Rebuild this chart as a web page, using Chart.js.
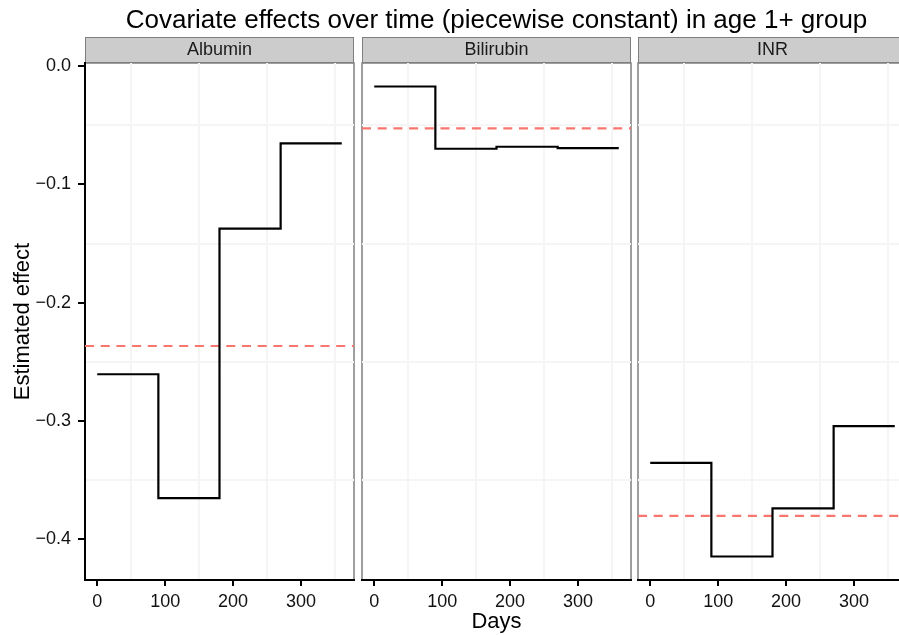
<!DOCTYPE html>
<html lang="en">
<head>
<meta charset="UTF-8" />
<title>Covariate effects over time</title>
<script src="https://cdn.jsdelivr.net/npm/chart.js@4"></script>
<style>
  html, body { margin: 0; padding: 0; background: #fff; overflow: hidden; }
  #area { position: relative; width: 899px; height: 635px; overflow: hidden; }
  #area canvas { position: absolute; left: 0; top: 0; }
</style>
</head>
<body>
<div id="area">
  <canvas id="g1" width="915" height="635"></canvas>
  <canvas id="g2" width="993" height="635"></canvas>
  <canvas id="g3" width="915" height="635"></canvas>
</div>

<script>
  var chartTitle = "Covariate effects over time (piecewise constant) in age 1+ group";
  var panelNames = ["Albumin", "Bilirubin", "INR"];
  var dayStarts = [0, 90, 180, 270];
  var dayEnd = 360;
  var albumin = [-0.2604, -0.3651, -0.1373, -0.0653];
  var bilirubin = [-0.0172, -0.0698, -0.0681, -0.0693];
  var inr = [-0.3353, -0.4144, -0.3738, -0.3043];
  var constantEffect = [-0.2365, -0.0526, -0.3801];
  var xTicks = [0, 100, 200, 300];
  var yTicks = [-0.4, -0.3, -0.2, -0.1, 0.0];

  Chart.defaults.font.family = "'Liberation Sans', Arial, sans-serif";
  Chart.defaults.color = "#111";

  // limites como no ggplot (5% de cada lado)
  var allY = albumin.concat(bilirubin, inr, constantEffect);
  var yLow = Math.min.apply(null, allY);
  var yHigh = Math.max.apply(null, allY);
  var yMin = yLow - (yHigh - yLow) * 0.05;
  var yMax = yHigh + (yHigh - yLow) * 0.05;
  var xMin = dayStarts[0] - (dayEnd - dayStarts[0]) * 0.05;
  var xMax = dayEnd + (dayEnd - dayStarts[0]) * 0.05;

  function withMinor(major, lo, hi) {
    var step = major[1] - major[0];
    var list = major.map(function (v) { return { value: v, minor: false }; });
    var mids = [major[0] - step / 2].concat(major.map(function (v) { return v + step / 2; }));
    mids.forEach(function (v) {
      if (v > lo && v < hi) list.push({ value: v, minor: true });
    });
    return list.sort(function (a, b) { return a.value - b.value; });
  }

  function gridColor(c) {
    return c.tick && c.tick.minor ? "#F5F5F5" : "rgba(0,0,0,0)";
  }
  function tickColor(c) {
    return c.tick && c.tick.minor ? "rgba(0,0,0,0)" : "#000";
  }

  var panelFrame = {
    id: "panelFrame",
    beforeDraw: function (chart) {
      var a = chart.chartArea;
      var ctx = chart.ctx;
      var name = chart.options.plugins.panelFrame.name;
      ctx.save();
      ctx.strokeStyle = "#7F7F7F";
      ctx.lineWidth = 1.5;
      ctx.strokeRect(a.left, a.top, a.right - a.left, a.bottom - a.top);
      // faixa cinza com o nome do painel
      ctx.fillStyle = "#CCCCCC";
      ctx.fillRect(a.left, a.top - 26, a.right - a.left, 26);
      ctx.lineWidth = 1;
      ctx.strokeRect(a.left + 0.5, a.top - 25.5, a.right - a.left - 1, 25);
      ctx.fillStyle = "#1a1a1a";
      ctx.font = "18px 'Liberation Sans', Arial, sans-serif";
      ctx.textAlign = "center";
      ctx.textBaseline = "middle";
      ctx.fillText(name, (a.left + a.right) / 2, a.top - 13);
      ctx.restore();
    }
  };

  // leftW / rightW: largura fixa dos eixos, assim a area de cada painel fica no lugar
  function makePanel(canvasId, idx, values, leftW, rightW, first, middle) {
    var steps = dayStarts.map(function (d, i) { return { x: d, y: values[i] }; });
    steps.push({ x: dayEnd, y: values[values.length - 1] });

    new Chart(document.getElementById(canvasId), {
      type: "line",
      data: {
        datasets: [
          {
            data: steps,
            stepped: "before",
            borderColor: "#000",
            borderWidth: 2.2,
            pointRadius: 0,
            fill: false
          },
          {
            data: [{ x: xMin, y: constantEffect[idx] }, { x: xMax, y: constantEffect[idx] }],
            borderColor: "#F8766D",
            borderWidth: 2.2,
            borderDash: [9, 6.7],
            pointRadius: 0,
            fill: false
          }
        ]
      },
      options: {
        responsive: false,
        animation: false,
        events: [],
        layout: { padding: { left: 0, right: 0, top: middle ? 0 : 63, bottom: 0 } },
        plugins: {
          legend: { display: false },
          tooltip: { enabled: false },
          panelFrame: { name: panelNames[idx] },
          title: {
            display: middle,
            text: chartTitle,
            color: "#000",
            font: { size: 26, weight: "normal" },
            padding: { top: 5, bottom: 26.8 }
          }
        },
        scales: {
          x: {
            type: "linear",
            min: xMin,
            max: xMax,
            afterBuildTicks: function (s) { s.ticks = withMinor(xTicks, s.min, s.max); },
            afterFit: function (s) { s.height = 55; },
            grid: { color: gridColor, tickColor: tickColor, lineWidth: 2, tickLength: 6, tickWidth: 2 },
            border: { color: "#000", width: 2 },
            ticks: {
              autoSkip: false,
              maxRotation: 0,
              padding: 5,
              color: "#111",
              font: { size: 18 },
              callback: function (v, i, t) { return t[i].minor ? "" : String(v); }
            },
            title: {
              display: middle,
              text: "Days",
              color: "#000",
              font: { size: 22 },
              padding: { top: 0, bottom: 0 }
            }
          },
          y: {
            min: yMin,
            max: yMax,
            afterBuildTicks: function (s) { s.ticks = withMinor(yTicks, s.min, s.max); },
            afterFit: function (s) { s.width = leftW; },
            grid: { color: gridColor, tickColor: tickColor, lineWidth: 2, drawTicks: first, tickLength: 7, tickWidth: 2 },
            border: { display: first, color: "#000", width: 2 },
            ticks: {
              display: first,
              autoSkip: false,
              padding: 7,
              color: "#111",
              font: { size: 18 },
              callback: function (v, i, t) {
                return t[i].minor ? "" : v.toFixed(1).replace("-", "\u2212");
              }
            },
            title: {
              display: first,
              text: "Estimated effect",
              color: "#000",
              font: { size: 22 },
              padding: { top: 10, bottom: 0 }
            }
          },
          espaco: {
            position: "right",
            afterFit: function (s) { s.width = rightW; },
            grid: { display: false },
            border: { display: false },
            ticks: { display: false }
          }
        }
      },
      plugins: [panelFrame]
    });
  }

  makePanel("g1", 0, albumin, 85, 561, true, false);
  makePanel("g2", 1, bilirubin, 362, 362, false, true);
  makePanel("g3", 2, inr, 638, 8, false, false);
</script>
</body>
</html>
